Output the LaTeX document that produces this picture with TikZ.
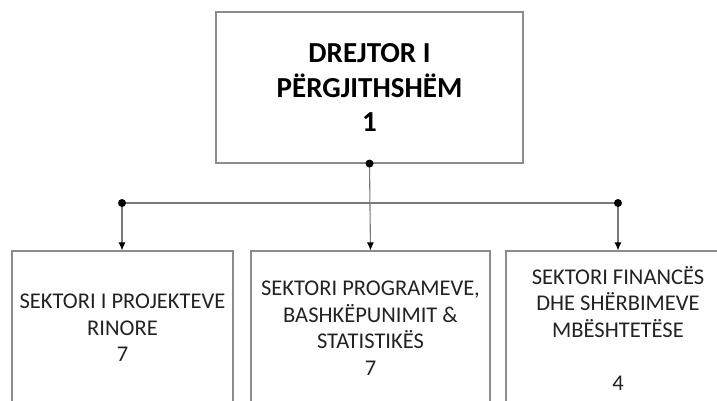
\documentclass[tikz,border=0pt]{standalone}
\usepackage{fontspec}
\setmainfont{Carlito}
\usepackage{tikz}
\usetikzlibrary{arrows.meta}

% colours of the lines and of the texts
\definecolor{boxline}{HTML}{8C8C8C}
\definecolor{linkline}{HTML}{7A7A7A}
\definecolor{boxtext}{HTML}{222222}

\begin{document}
\begin{tikzpicture}[x=1pt, y=1pt]
% the page is 717 x 401, the lower boxes run past its edges
\useasboundingbox (0,0) rectangle (717,401);
\clip (0,0) rectangle (717,401);

% "headbox" = the box of the director, "unitbox" = the box of a sector
\tikzset{
  headbox/.style={draw=boxline, line width=1.1pt, inner sep=0pt, align=center,
    minimum width=307pt, minimum height=151pt,
    font=\bfseries\fontsize{29}{34.5}\selectfont},
  unitbox/.style={draw=boxline, line width=1.1pt, inner sep=0pt, align=center,
    minimum height=154pt, text=boxtext,
    font=\fontsize{22.5}{26.5}\selectfont},
  link/.style={draw=linkline, line width=1.1pt},
  down/.style={link, -{Latex[length=8pt, width=7pt, black]}}
}

% The director at the top
\node[headbox] (director) at (369.5,313.5) {DREJTOR I\\P\"ERGJITHSH\"EM\\1};

% The three sectors; each box is centred at (a,b)
\node[unitbox, minimum width=221pt] (projects) at (122.5,73) {SEKTORI I PROJEKTEVE\\RINORE\\7};
\node[unitbox, minimum width=239pt] (programs) at (370.5,73) {SEKTORI PROGRAMEVE,\\BASHK\"EPUNIMIT \&\\STATISTIK\"ES\\7};
\node[unitbox, minimum width=224pt] (finance) at (618,73) {SEKTORI FINANC\"ES\\DHE SH\"ERBIMEVE\\MB\"ESHTET\"ESE\\[26.5pt]4};

% The two ends of the horizontal line
\coordinate (leftjoin) at (122,198);
\coordinate (rightjoin) at (618,198);

% Lines from the director down to the sectors
\draw[link] (leftjoin) -- (rightjoin);
\draw[down] (director.south) -- (programs.north);
\draw[down] (leftjoin) -- (leftjoin |- projects.north);
\draw[down] (rightjoin) -- (rightjoin |- finance.north);

% The black dots
\fill (director.south) circle (4pt);
\fill (leftjoin) circle (4pt);
\fill (rightjoin) circle (4pt);
\end{tikzpicture}
\end{document}
